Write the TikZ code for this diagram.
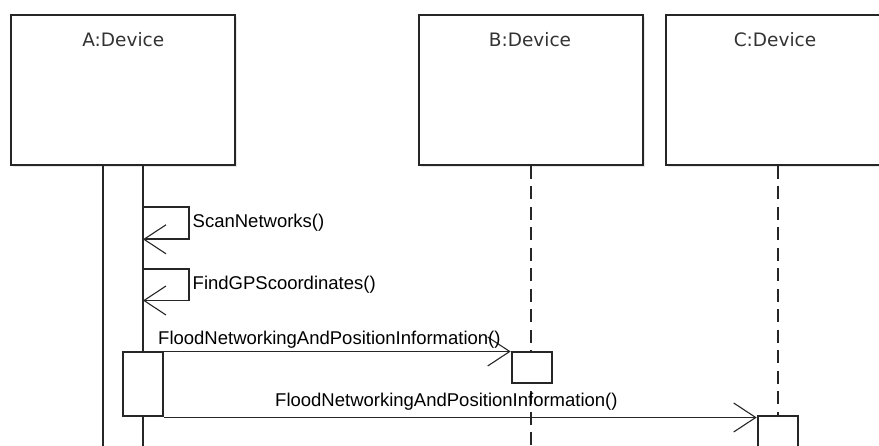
\documentclass[tikz,border=0pt]{standalone}
\usepackage{fontspec}
\setmainfont{Liberation Sans}
\newfontfamily\lblfont{DejaVu Sans}
\usetikzlibrary{arrows.meta,shadows}

\tikzset{
  objbox/.style={draw=black!85, line width=2pt, fill=white, rectangle,
    minimum width=224pt, minimum height=150pt, inner sep=0pt,
    drop shadow={shadow xshift=2pt, shadow yshift=-2.5pt, fill=black!18}},
  objlabel/.style={font=\lblfont\fontsize{18.5}{22}\selectfont, text=black!80, inner sep=0pt},
  actbox/.style={draw=black!85, line width=2pt, fill=white, rectangle, inner sep=0pt},
  lifeline/.style={draw=black!85, line width=2.2pt, dash pattern=on 13pt off 7.5pt},
  solidlife/.style={draw=black!85, line width=2pt},
  msg/.style={draw=black!85, line width=1.8pt,
    -{Straight Barb[length=22pt, width=29pt, line width=1.1pt]}},
  msglabel/.style={font=\fontsize{18.5}{22}\selectfont, anchor=west, inner sep=0pt}
}

\begin{document}
\begin{tikzpicture}[x=1pt, y=-1pt]
  \useasboundingbox (0,0) rectangle (879,446);
  \clip (0,0) rectangle (879,446);

  % bottom edge for all lifelines
  \coordinate (bottom) at (0,460);

  % object heads
  \node[objbox] (A) at (123.3,90) {};
  \node[objbox] (B) at (531.3,90) {};
  \node[objbox] (C) at (777.7,90) {};
  \node[objlabel] (Alab) at (123.3,40) {A:Device};
  \node[objlabel] (Blab) at (530,40) {B:Device};
  \node[objlabel] (Clab) at (775,40) {C:Device};

  % lifelines of B and C
  \draw[lifeline] (B.south) -- (B.south |- bottom);
  \draw[lifeline] (C.south) -- (C.south |- bottom);

  % long activation bar of A
  \coordinate (abL) at (103,165);
  \coordinate (abR) at (143,165);
  \draw[solidlife] (abL) -- (abL |- bottom);
  \draw[solidlife] (abR) -- (abR |- bottom);

  % nested activations
  \node[actbox, minimum width=40.6pt, minimum height=64pt] (actA) at (143,384.5) {};
  \node[actbox, minimum width=40pt, minimum height=31pt] (actB) at (531.7,368) {};
  \node[actbox, minimum width=40pt, minimum height=50pt, anchor=north] (actC) at (777.7,415) {};

  % self messages on A
  \coordinate (s1a) at (143,207);
  \coordinate (s1b) at (189.3,239.3);
  \coordinate (s1c) at (143,239.3);
  \draw[msg] (s1a) -| (s1b) -- (s1c);
  \node[msglabel] (s1lab) at (192.5,223) {ScanNetworks()};

  \coordinate (s2a) at (143,269.3);
  \coordinate (s2b) at (189.3,300.5);
  \coordinate (s2c) at (143,300.5);
  \draw[msg] (s2a) -| (s2b) -- (s2c);
  \node[msglabel] (s2lab) at (192.5,285) {FindGPScoordinates()};

  % flooding messages
  \draw[msg] (actA.north east) -- (actB.north west);
  \node[msglabel] (m1lab) at (158,339.5) {FloodNetworkingAndPositionInformation()};

  \draw[msg] (actA.south east) -- (actA.south east -| actC.west);
  \node[msglabel] (m2lab) at (275,401.5) {FloodNetworkingAndPositionInformation()};
\end{tikzpicture}
\end{document}
